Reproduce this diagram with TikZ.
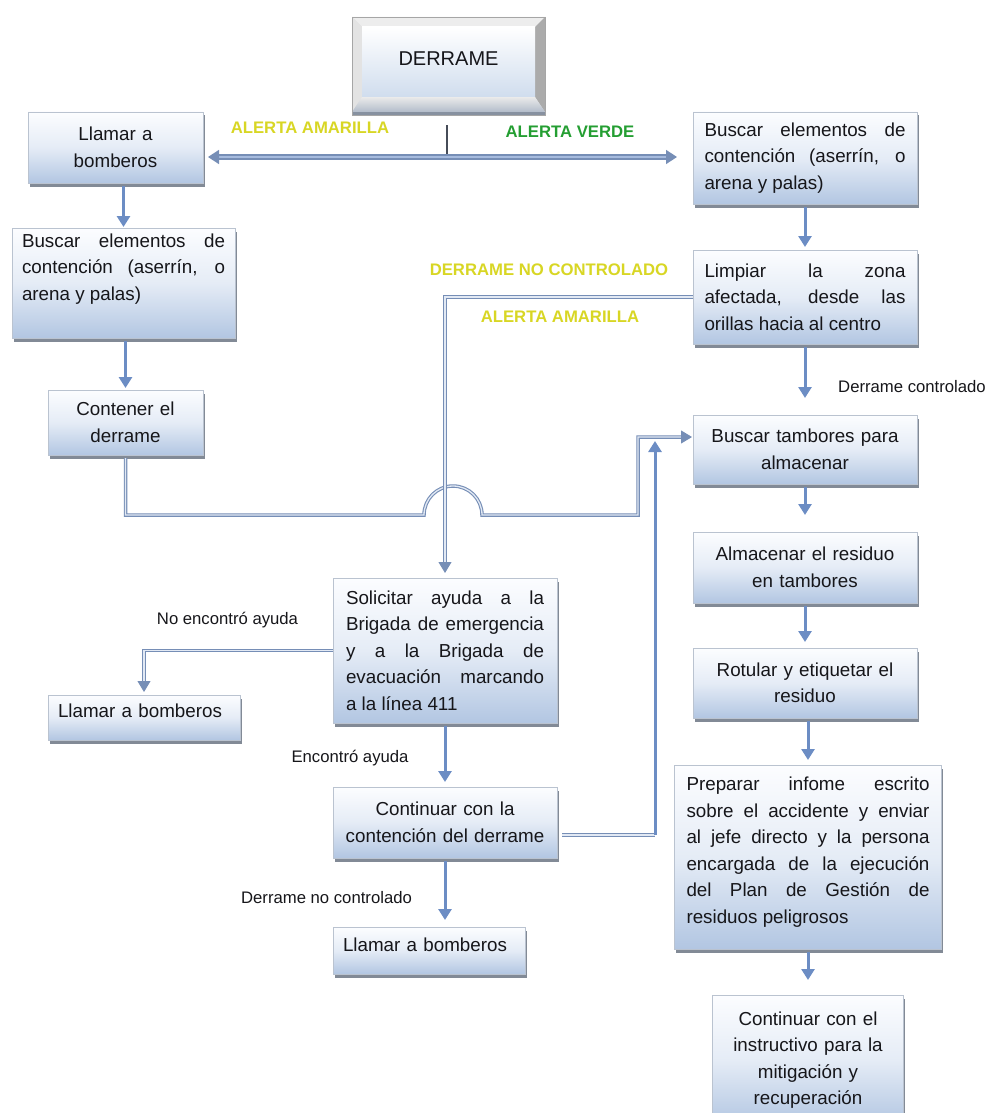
\documentclass[tikz,border=0pt]{standalone}
\usepackage{fontspec}
\setmainfont{Liberation Sans}
\usetikzlibrary{arrows.meta,shadows}

\definecolor{ink}{RGB}{22,22,26}
\definecolor{arrowblue}{RGB}{108,141,196}
\definecolor{lineblue}{RGB}{118,142,182}
\definecolor{linecore}{RGB}{226,233,244}
\definecolor{maincore}{RGB}{166,187,222}
\definecolor{boxtop}{RGB}{252,253,255}
\definecolor{boxmid}{RGB}{229,236,246}
\definecolor{boxbot}{RGB}{178,198,226}
\definecolor{boxedge}{RGB}{186,195,208}
\definecolor{shadowgray}{RGB}{130,138,150}
\definecolor{stemgray}{RGB}{70,76,88}
\definecolor{alertyellow}{RGB}{216,214,36}
\definecolor{alertgreen}{RGB}{36,158,50}
\definecolor{bevelbase}{RGB}{178,188,202}
\definecolor{beveldark}{RGB}{135,145,160}
\definecolor{faceblue}{RGB}{208,221,238}

% invisible strut that deepens the last line of a node
\newcommand{\bottompad}[1]{\rule[-#1pt]{0pt}{#1pt}}

\begin{document}
\begin{tikzpicture}[x=1pt, y=-1pt,
  box/.style={draw=boxedge, line width=0.8pt,
    top color=boxtop, bottom color=boxbot, middle color=boxmid,
    drop shadow={shadow xshift=1.5pt, shadow yshift=-3.5pt, fill=shadowgray, opacity=1},
    inner sep=0pt, outer sep=0pt, text=ink,
    font=\fontsize{18.8}{26.5}\selectfont},
  lbl/.style={inner sep=0pt, text=ink, font=\fontsize{16.7}{20}\selectfont},
  alert/.style={inner sep=0pt, font=\fontsize{16.7}{20}\selectfont\bfseries},
  tip/.style={-{Triangle[width=13pt,length=11pt]}},
  flow/.style={draw=arrowblue, line width=3pt, tip},
  dbl/.style={draw=lineblue, line width=1.1pt, double=linecore, double distance=1.3pt},
  mainline/.style={draw=lineblue, line width=1.5pt, double=maincore, double distance=2.2pt,
    -{Triangle[width=14pt,length=11pt]}},
  stem/.style={draw=stemgray, line width=1.3pt},
]
\useasboundingbox (0,0) rectangle (990,1113);
\clip (0,0) rectangle (990,1113);

% ---------- bevelled title button ----------
\fill[gray!25] (352,17) rectangle (545,115);
\fill[black!7] (352,17) -- (545,17) -- (535,27) -- (362,27) -- cycle;
\fill[black!11] (352,17) -- (362,27) -- (362,97) -- (352,112) -- cycle;
\fill[black!33] (545,17) -- (545,112) -- (535,97) -- (535,27) -- cycle;
\shade[top color=black!8, bottom color=bevelbase]
  (352,112) -- (362,97) -- (535,97) -- (545,112) -- cycle;
\fill[beveldark] (352,112) rectangle (545,115);
\shade[top color=white, bottom color=faceblue] (362,27) rectangle (535,97);
\draw[black!35, line width=0.6pt] (352,17) rectangle (545,115);
\node[minimum width=193, minimum height=98, inner sep=0pt, text=ink,
  font=\fontsize{20}{24}\selectfont] (derrame) at (448.5,66) {DERRAME\bottompad{14}};

% ---------- left column ----------
\node[box, minimum width=175, minimum height=71, text width=160, align=center]
  (llamarA) at (115.5,147.5) {Llamar a\\bomberos};
\node[box, minimum width=223, minimum height=110, text width=203, align=justify]
  (buscarA) at (123.5,283)
  {Buscar elementos de\linebreak contención (aserrín, o\linebreak arena y palas)\bottompad{32}};
\node[box, minimum width=155, minimum height=65, text width=145, align=center]
  (contener) at (125.5,422.5) {Contener el\\derrame};
\node[box, minimum width=192, minimum height=45, text width=172, align=left]
  (llamarB) at (144,717.5) {Llamar a bomberos\bottompad{14}};

% ---------- middle column ----------
\node[box, minimum width=224, minimum height=145, text width=198, align=justify]
  (solicitar) at (445,650.5)
  {Solicitar ayuda a la\linebreak Brigada de emergencia\linebreak y a la Brigada de\linebreak evacuación marcando\linebreak a la línea 411};
\node[box, minimum width=224, minimum height=71, text width=214, align=center]
  (continuar) at (445,822.5) {Continuar con la\\contención del derrame};
\node[box, minimum width=192, minimum height=47, text width=172, align=left]
  (llamarC) at (429,950.5) {Llamar a bomberos\bottompad{12}};

% ---------- right column ----------
\node[box, minimum width=224, minimum height=92, text width=201, align=justify]
  (buscarB) at (805,158)
  {Buscar elementos de\linebreak contención (aserrín, o\linebreak arena y palas)};
\node[box, minimum width=224, minimum height=94, text width=201, align=justify]
  (limpiar) at (805,297)
  {Limpiar la zona\linebreak afectada, desde las\linebreak orillas hacia al centro};
\node[box, minimum width=224, minimum height=69, text width=212, align=center]
  (tambores) at (805,449.5) {Buscar tambores para\\almacenar};
\node[box, minimum width=224, minimum height=71, text width=212, align=center]
  (almacenar) at (805,567.5) {Almacenar el residuo\\en tambores};
\node[box, minimum width=224, minimum height=70, text width=212, align=center]
  (rotular) at (805,683) {Rotular y etiquetar el\\residuo};
\node[box, minimum width=267, minimum height=184, text width=243, align=justify]
  (informe) at (808,857)
  {Preparar infome escrito\linebreak sobre el accidente y enviar\linebreak al jefe directo y la persona\linebreak encargada de la ejecución\linebreak del Plan de Gestión de\linebreak residuos peligrosos\bottompad{14}};
\node[box, minimum width=191, minimum height=130, text width=185, align=center]
  (seguir) at (808,1060)
  {Continuar con el\\instructivo para la\\mitigación y\\recuperación};

% ---------- branching under the title ----------
\coordinate (split) at (447,157);
\draw[stem, shorten <=10pt] (derrame.south -| split) -- (split);
\draw[mainline, shorten >=5pt] (split) -- (split -| llamarA.east);
\draw[mainline, shorten >=16pt] (split) -- (split -| buscarB.west);

% ---------- left column flow ----------
\draw[flow, shorten <=3pt, shorten >=1pt] (llamarA.south -| buscarA.north) -- (buscarA.north);
\draw[flow, shorten <=3pt, shorten >=2pt] (buscarA.south -| contener.north) -- (contener.north);

% contained spill joins the storage step, hopping over the crossing line
\coordinate (jumpL) at (424,515);
\coordinate (bendA) at (638,515);
\coordinate (bendB) at (638,437);
\draw[dbl, tip, shorten <=3pt, shorten >=1pt] (contener.south) |- (jumpL)
  arc[start angle=180, end angle=360, radius=29] -- (bendA) -- (bendB) -- (bendB -| tambores.west);

% uncontrolled spill
\coordinate (dncturn) at (solicitar.north |- limpiar.west);
\draw[dbl, tip, shorten >=5pt] (limpiar.west) -- (dncturn) -- (solicitar.north);

% help requests
\draw[dbl, tip, shorten >=3pt] (solicitar.west) -| (llamarB.north);
\draw[flow, shorten <=3pt, shorten >=5pt] (solicitar.south) -- (solicitar.south |- continuar.north);
\draw[flow, shorten <=3pt, shorten >=7pt] (continuar.south) -- (continuar.south |- llamarC.north);

\coordinate (upcol) at (655,835);
\draw[dbl, shorten <=5pt] (continuar.east |- upcol) -- (upcol);
\draw[flow, shorten >=4pt] (upcol) -- (upcol |- bendB);

% ---------- right column flow ----------
\draw[flow, shorten <=3pt, shorten >=3pt] (buscarB.south) -- (limpiar.north);
\draw[flow, shorten <=3pt, shorten >=17pt] (limpiar.south) -- (tambores.north);
\draw[flow, shorten <=3pt, shorten >=17pt] (tambores.south) -- (almacenar.north);
\draw[flow, shorten <=3pt, shorten >=6pt] (almacenar.south) -- (rotular.north);
\draw[flow, shorten <=3pt, shorten >=5pt] (rotular.south -| informe.north) -- (informe.north);
\draw[flow, shorten <=3pt, shorten >=15pt] (informe.south) -- (seguir.north);

% ---------- labels ----------
\node[alert, text=alertyellow] (lblYellowA) at (310,128) {ALERTA AMARILLA};
\node[alert, text=alertgreen] (lblGreen) at (570,132) {ALERTA VERDE};
\node[alert, text=alertyellow] (lblNoCtrl) at (549,270) {DERRAME NO CONTROLADO};
\node[alert, text=alertyellow] (lblYellowB) at (560,317) {ALERTA AMARILLA};
\node[lbl] (lblCtrl) at (912,387) {Derrame controlado};
\node[lbl] (lblNoHelp) at (227.5,620) {No encontró ayuda};
\node[lbl] (lblHelp) at (350,758) {Encontró ayuda};
\node[lbl] (lblNoCtrlB) at (326.5,898) {Derrame no controlado};
\end{tikzpicture}
\end{document}
